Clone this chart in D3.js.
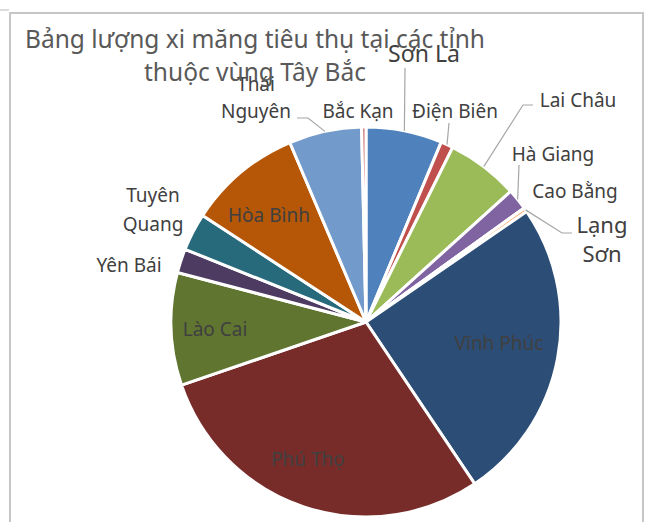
<!DOCTYPE html>
<html>
<head>
<meta charset="utf-8">
<script src="https://cdn.jsdelivr.net/npm/d3@7"></script>
<style>
  body { margin: 0; background: #fff; }
  svg { display: block; }
  text { font-family: "Noto Sans", "Open Sans", sans-serif; }
</style>
</head>
<body>
<svg width="648" height="522"></svg>
<script>
// data (shares, clockwise from 12 o'clock)
var provinces = ["Sơn La", "Điện Biên", "Lai Châu", "Hà Giang", "Cao Bằng", "Lạng Sơn",
                 "Vĩnh Phúc", "Phú Thọ", "Lào Cai", "Yên Bái", "Tuyên Quang", "Hòa Bình",
                 "Thái Nguyên", "Bắc Kạn"];
var values = [22.7, 3.7, 21.5, 6.3, 0.1, 1.2, 90.6, 105, 33.6, 7.2, 11.2, 33.9, 21.7, 1.3];
var titleLines = ["Bảng lượng xi măng tiêu thụ tại các tỉnh", "thuộc vùng Tây Bắc"];

var palette = ["#4F81BD", "#C0504D", "#9BBB59", "#8064A2", "#4BACC6", "#F79646",
               "#2C4D75", "#772C2A", "#5F7530", "#4D3B62", "#276A7C", "#B65708",
               "#729ACA", "#CD7371"];

// label placement (Excel best-fit layout), lines = text rows, leader = label-side points
var labelLayout = {
  "Sơn La":      {x: 424, y: 62,  size: 23, lines: ["Sơn La"], leader: [[405, 68]]},
  "Điện Biên":   {x: 455, y: 118, size: 19, lines: ["Điện Biên"], leader: [[449, 123]]},
  "Lai Châu":    {x: 578, y: 107, size: 19, lines: ["Lai Châu"], leader: [[533, 105], [523, 105]]},
  "Hà Giang":    {x: 553, y: 161, size: 19, lines: ["Hà Giang"], leader: [[519, 165]]},
  "Cao Bằng":    {x: 575, y: 198, size: 19, lines: ["Cao Bằng"]},
  "Lạng Sơn":    {x: 602, y: 233, size: 22, lh: 29, lines: ["Lạng", "Sơn"], leader: [[572, 233], [562, 233]]},
  "Vĩnh Phúc":   {x: 499, y: 350, size: 19, lines: ["Vĩnh Phúc"]},
  "Phú Thọ":     {x: 308, y: 466, size: 19, lines: ["Phú Thọ"]},
  "Lào Cai":     {x: 215, y: 336, size: 19, lines: ["Lào Cai"]},
  "Yên Bái":     {x: 129, y: 272, size: 19, lines: ["Yên Bái"]},
  "Tuyên Quang": {x: 153, y: 202, size: 19, lh: 29, lines: ["Tuyên", "Quang"]},
  "Hòa Bình":    {x: 269, y: 222, size: 19, lines: ["Hòa Bình"]},
  "Thái Nguyên": {x: 256, y: 91,  size: 19, lh: 27, lines: ["Thái", "Nguyên"], leader: [[297, 118], [308, 118]]},
  "Bắc Kạn":     {x: 358, y: 118, size: 19, lines: ["Bắc Kạn"]}
};

var svg = d3.select("svg"),
    cx = 366, cy = 322, radius = 195;

// chart frame
svg.append("rect")
    .attr("x", 10).attr("y", 13)
    .attr("width", 633).attr("height", 530)
    .attr("fill", "#fff")
    .attr("stroke", "#C6C6C6")
    .attr("stroke-width", 2);
svg.append("line")
    .attr("x1", 0).attr("x2", 9).attr("y1", 10).attr("y2", 10)
    .attr("stroke", "#D0D0D0").attr("stroke-width", 1.5);

var pie = d3.pie().sort(null).value(function(d) { return d.value; });
var arc = d3.arc().innerRadius(0).outerRadius(radius);

var data = provinces.map(function(p, i) { return {name: p, value: values[i], color: palette[i]}; });
var arcs = pie(data);

var g = svg.append("g").attr("transform", "translate(" + cx + "," + cy + ")");

g.selectAll("path.slice")
    .data(arcs)
    .enter().append("path")
    .attr("class", "slice")
    .attr("d", arc)
    .attr("fill", function(d) { return d.data.color; })
    .attr("stroke", "#fff")
    .attr("stroke-width", 3)
    .attr("stroke-linejoin", "round");

// leader lines: from label side to the middle of the slice's outer edge
arcs.forEach(function(d) {
  var lay = labelLayout[d.data.name];
  if (!lay.leader) return;
  var mid = (d.startAngle + d.endAngle) / 2;
  var pts = lay.leader.map(function(p) { return [p[0], p[1]]; });
  pts.push([cx + radius * Math.sin(mid), cy - radius * Math.cos(mid)]);
  svg.append("path")
      .attr("d", d3.line()(pts))
      .attr("fill", "none")
      .attr("stroke", "#A6A6A6")
      .attr("stroke-width", 1.2);
});

// data labels
arcs.forEach(function(d) {
  var lay = labelLayout[d.data.name];
  var t = svg.append("text")
      .attr("x", lay.x).attr("y", lay.y)
      .attr("text-anchor", "middle")
      .attr("font-size", lay.size + "px")
      .attr("fill", "#404040");
  lay.lines.forEach(function(s, i) {
    t.append("tspan")
        .attr("x", lay.x)
        .attr("dy", i === 0 ? 0 : (lay.lh || lay.size * 1.3))
        .text(s);
  });
});

// title
var title = svg.append("text")
    .attr("text-anchor", "middle")
    .attr("font-size", "24.5px")
    .attr("fill", "#595959");
titleLines.forEach(function(s, i) {
  title.append("tspan")
      .attr("x", 255)
      .attr("y", 48 + i * 33)
      .text(s);
});
</script>
</body>
</html>
